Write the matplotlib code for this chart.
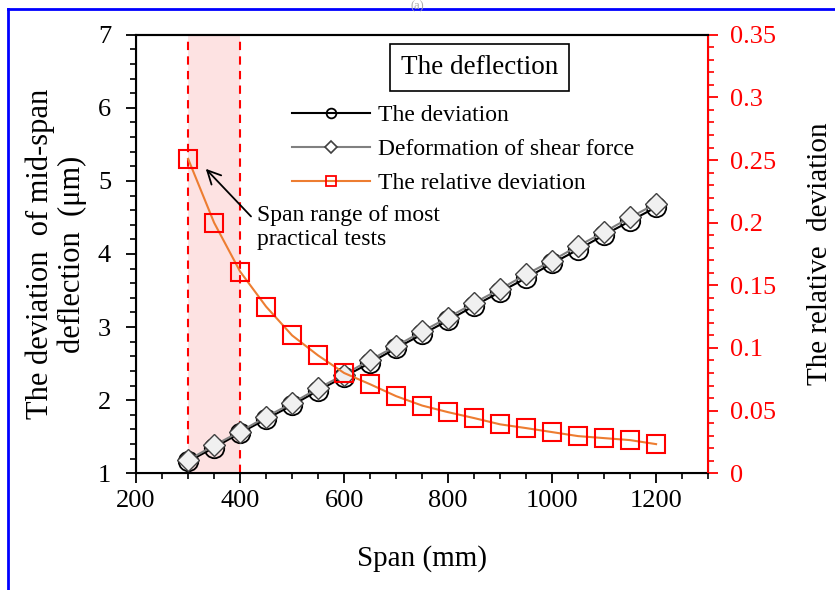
import numpy as np
import matplotlib
matplotlib.use("Agg")
import matplotlib.pyplot as plt
from matplotlib.lines import Line2D
from matplotlib.ticker import MultipleLocator

plt.rcParams['font.family'] = ['Liberation Serif', 'DejaVu Serif']

span = [300, 350, 400, 450, 500, 550, 600, 650, 700, 750,
        800, 850, 900, 950, 1000, 1050, 1100, 1150, 1200]
deviation = [1.16, 1.35, 1.55, 1.74, 1.93, 2.13, 2.32, 2.51, 2.71, 2.90,
             3.09, 3.29, 3.48, 3.67, 3.87, 4.06, 4.26, 4.45, 4.64]
shear = [1.18, 1.38, 1.57, 1.77, 1.96, 2.16, 2.35, 2.55, 2.74, 2.94,
         3.13, 3.33, 3.52, 3.72, 3.91, 4.11, 4.30, 4.50, 4.69]
relative = [0.251, 0.200, 0.161, 0.133, 0.110, 0.094, 0.080, 0.071, 0.0615, 0.054,
            0.0487, 0.044, 0.039, 0.036, 0.0328, 0.0296, 0.028, 0.0264, 0.0232]
practical_range = [300, 400]

orange = '#ED7D31'

fig = plt.figure(figsize=(8.35, 5.9), dpi=100)
ax1 = fig.add_axes([0.163, 0.198, 0.685, 0.743])
ax2 = ax1.twinx()

# shaded range and dashed bounds
ax1.axvspan(practical_range[0], practical_range[1], color='#fde2e2', zorder=0, lw=0)
for xv in practical_range:
    ax1.axvline(xv, color='red', ls=(0, (4, 3)), lw=1.5, zorder=1)

ax1.plot(span, deviation, color='black', lw=1.5, marker='o', ms=14,
         mfc='none', mec='black', mew=1.3, zorder=3)
ax1.plot(span, shear, color='#808080', lw=1.5, marker='D', ms=11,
         mfc='#f0f0f0', mec='#404040', mew=1.0, zorder=4)
ax2.plot(span, relative, color=orange, lw=1.5, marker='s', ms=13,
         mfc='none', mec='red', mew=1.5, zorder=3)

ax1.set_xlim(200, 1300)
ax1.set_ylim(1, 7)
ax2.set_ylim(0, 0.35)

ax1.xaxis.set_major_locator(MultipleLocator(200))
ax1.xaxis.set_minor_locator(MultipleLocator(50))
ax1.yaxis.set_major_locator(MultipleLocator(1))
ax1.yaxis.set_minor_locator(MultipleLocator(0.2))
ax2.yaxis.set_major_locator(MultipleLocator(0.05))
ax2.yaxis.set_minor_locator(MultipleLocator(0.01))
ax2.yaxis.set_major_formatter(lambda v, p: '0' if abs(v) < 1e-9 else ('%.2f' % v).rstrip('0'))

ax1.tick_params(axis='both', which='major', direction='out', length=7, width=1.3,
                labelsize=19)
ax1.tick_params(axis='both', which='minor', direction='out', length=4, width=1.2)
ax1.tick_params(axis='x', which='major', pad=5)
ax1.tick_params(axis='y', which='major', pad=11)
ax2.tick_params(axis='y', which='major', direction='out', length=7, width=1.3,
                colors='red', labelsize=19, pad=9)
ax2.tick_params(axis='y', which='minor', direction='out', length=4, width=1.2, colors='red')

for s in ['left', 'bottom', 'top']:
    ax1.spines[s].set_linewidth(1.5)
ax2.spines['right'].set_color('red')
ax2.spines['right'].set_linewidth(1.5)
ax2.spines['top'].set_linewidth(1.5)

ax1.set_xlabel('Span (mm)', fontsize=21, labelpad=24)
ax1.set_ylabel('The deviation  of mid-span\ndeflection  (\u03bcm)', fontsize=22,
               labelpad=8, linespacing=1.1)
ax2.set_ylabel('The relative  deviation', fontsize=21, labelpad=22)

# title box
ax2.text(0.601, 0.925, 'The deflection', transform=ax2.transAxes, fontsize=19.5,
         ha='center', va='center',
         bbox=dict(boxstyle='square,pad=0.4', fc='white', ec='black', lw=1.2))

handles = [
    Line2D([], [], color='black', lw=1.5, marker='o', ms=7, mfc='none', mec='black', mew=1.3),
    Line2D([], [], color='#808080', lw=1.5, marker='D', ms=6, mfc='white', mec='#404040', mew=1.2),
    Line2D([], [], color=orange, lw=1.5, marker='s', ms=7, mfc='none', mec='red', mew=1.3),
]
labels = ['The deviation', 'Deformation of shear force', 'The relative deviation']
ax2.legend(handles, labels, loc='upper left', bbox_to_anchor=(0.273, 0.84),
           frameon=False, fontsize=17, handlelength=3.3, handletextpad=0.35,
           labelspacing=0.52, borderpad=0, borderaxespad=0)

# annotation
ax2.annotate('', xy=(334, 0.243), xytext=(421, 0.205),
             arrowprops=dict(arrowstyle='->', color='black', lw=1.3,
                             mutation_scale=24, shrinkA=0, shrinkB=0))
ax2.text(432, 0.214, 'Span range of most\npractical tests', fontsize=17,
         ha='left', va='top', linespacing=1.2)

# page frame
fig.add_artist(Line2D([0.009, 0.009], [0, 0.985], transform=fig.transFigure,
                      color='blue', lw=2))
fig.add_artist(Line2D([0.009, 1.0], [0.985, 0.985], transform=fig.transFigure,
                      color='blue', lw=2))
fig.text(0.5, 0.999, '(a)', ha='center', va='top', fontsize=9, color='#aaaaaa')

plt.savefig('out.png', dpi=100)
